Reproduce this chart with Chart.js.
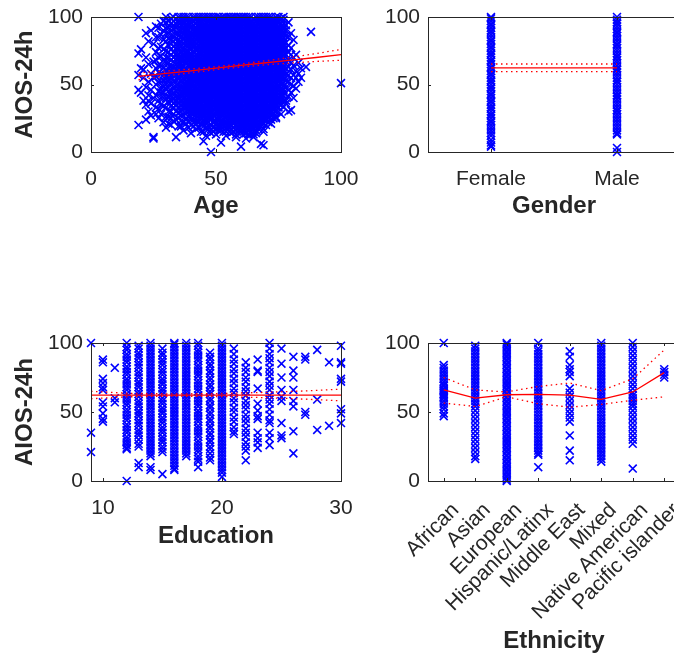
<!DOCTYPE html>
<html>
<head>
<meta charset="utf-8">
<script src="https://cdn.jsdelivr.net/npm/chart.js@4.4.1/dist/chart.umd.min.js"></script>
<style>
  html, body { margin: 0; padding: 0; background: #fff; overflow: hidden; }
  body { width: 674px; height: 656px; position: relative; }
  canvas { position: absolute; }
</style>
</head>
<body>
<canvas id="ageChart" width="360" height="240" style="left:0;top:0"></canvas>
<canvas id="genderChart" width="330" height="240" style="left:360px;top:0"></canvas>
<canvas id="eduChart" width="360" height="240" style="left:0;top:320px"></canvas>
<canvas id="ethChart" width="330" height="336" style="left:360px;top:320px"></canvas>
<script>
// ---- data ----
const scoreTicks = [0, 50, 100];
const ageTicks = [0, 50, 100];
const eduTicks = [10, 20, 30];
const genderLabels = ['Female', 'Male'];
const ethnicityLabels = ['African', 'Asian', 'European', 'Hispanic/Latinx', 'Middle East', 'Mixed', 'Native American', 'Pacific islander'];

// [age, [AIOS-24h scores]]
const ageGroups = [
    [19, [100, 73, 57, 46, 20]],
    [20, [76, 62, 44]],
    [21, [61, 55, 38]],
    [22, [88, 70, 48, 35, 24]],
    [23, [82, 65, 52, 42, 38, 30]],
    [24, [90, 58, 46, 36, 27]],
    [25, [80, 67, 55, 40, 11, 10]],
    [26, [93, 74, 62, 50, 33, 28]],
    [27, [85, 70, 59, 45, 38, 25]],
    [28, [95, 78, 64, 52, 44, 35, 28]],
    [29, [90, 83, 68, 57, 48, 40, 22]],
    [30, [96, 88, 75, 70, 61, 54, 47, 33, 18]],
    [31, [92, 84, 79, 66, 58, 50, 41, 37, 26]],
    [32, [99, 86, 80, 72, 63, 55, 45, 38, 30, 20]],
    [33, [100, 91, 82, 74, 67, 60, 52, 44, 39, 33, 28]],
    [34, [95, 88, 84, 77, 69, 62, 57, 48, 42, 35, 24, 11]],
    [35, [100, 90, 86, 81, 73, 65, 58, 54, 50, 41, 36, 29, 19]],
    [36, [98, 94, 85, 78, 70, 66, 61, 53, 47, 44, 38, 32, 27, 23]],
    [37, [97, 92, 88, 80, 75, 71, 63, 59, 55, 46, 42, 36, 27, 16]],
    [38, [100, 91, 87, 83, 74, 69, 66, 57, 52, 49, 44, 39, 35, 30, 21]],
    [39, [98, 93, 85, 81, 77, 72, 68, 60, 56, 51, 47, 43, 38, 34, 26, 18]],
    [40, [96, 89, 85, 80, 73, 69, 64, 58, 54, 50, 45, 41, 37, 33, 29, 24, 14]],
    [41, [100, 94, 87, 82, 78, 70, 66, 62, 57, 53, 49, 45, 40, 36, 31, 28, 19]],
    [42, [98, 91, 88, 83, 75, 72, 67, 63, 59, 55, 51, 46, 42, 38, 34, 25, 21, 17]],
    [43, [95, 90, 86, 79, 76, 71, 68, 64, 60, 56, 52, 47, 43, 39, 35, 30, 27, 22]],
    [44, [97, 93, 89, 85, 81, 74, 70, 65, 62, 57, 54, 49, 45, 41, 37, 33, 29, 26, 15]],
    [45, [100, 92, 88, 84, 80, 76, 72, 68, 64, 60, 57, 52, 48, 44, 37, 33, 28, 23, 19, 8]],
    [46, [94, 90, 86, 82, 78, 74, 70, 67, 63, 59, 55, 51, 47, 43, 39, 35, 31, 26, 22, 12]],
    [47, [96, 92, 88, 85, 81, 77, 73, 69, 66, 62, 58, 54, 50, 46, 42, 39, 35, 29, 25, 17]],
    [48, [100, 95, 87, 83, 79, 75, 71, 68, 64, 60, 56, 52, 48, 44, 40, 36, 32, 24, 20, 14, 0]],
    [49, [98, 94, 90, 86, 82, 78, 74, 70, 66, 63, 59, 55, 51, 47, 43, 38, 34, 30, 27, 18]],
    [50, [100, 93, 89, 85, 81, 77, 73, 69, 65, 61, 57, 53, 49, 46, 42, 38, 34, 30, 25, 21, 13]],
    [51, [96, 92, 88, 84, 80, 76, 72, 68, 64, 60, 57, 53, 49, 45, 41, 37, 33, 29, 26, 20, 16]],
    [52, [99, 95, 91, 87, 83, 79, 75, 71, 67, 63, 60, 56, 52, 48, 44, 40, 36, 32, 28, 23, 19, 7]],
    [53, [100, 94, 90, 86, 82, 78, 74, 70, 66, 62, 58, 55, 51, 47, 43, 39, 35, 31, 27, 24, 15]],
    [54, [100, 96, 92, 88, 84, 80, 76, 73, 69, 65, 61, 57, 53, 49, 45, 41, 37, 33, 29, 22, 18, 12]],
    [55, [97, 93, 89, 85, 81, 77, 73, 70, 66, 62, 58, 54, 50, 46, 42, 38, 34, 30, 25, 21, 17]],
    [56, [99, 94, 90, 86, 82, 78, 74, 70, 66, 62, 58, 54, 50, 46, 42, 38, 34, 30, 26, 20, 14]],
    [57, [100, 95, 91, 87, 83, 79, 75, 71, 67, 63, 59, 55, 51, 47, 43, 39, 35, 31, 27, 23, 18]],
    [58, [95, 91, 87, 83, 79, 75, 71, 67, 63, 60, 56, 52, 48, 44, 40, 36, 32, 28, 23, 16, 11]],
    [59, [100, 96, 92, 88, 84, 80, 76, 72, 69, 65, 61, 57, 53, 49, 45, 41, 38, 34, 30, 26, 19]],
    [60, [99, 94, 90, 86, 82, 78, 74, 70, 67, 63, 59, 55, 51, 47, 43, 39, 35, 31, 27, 24, 20, 15, 4]],
    [61, [96, 92, 88, 84, 80, 76, 72, 68, 65, 61, 57, 53, 49, 45, 41, 37, 33, 29, 25, 21, 17, 13]],
    [62, [98, 94, 90, 86, 82, 78, 74, 70, 66, 63, 59, 55, 51, 47, 43, 39, 35, 31, 27, 23, 18, 10]],
    [63, [100, 95, 91, 87, 83, 79, 75, 71, 68, 64, 60, 56, 52, 48, 44, 40, 36, 32, 28, 24, 20, 16]],
    [64, [97, 93, 89, 85, 81, 77, 73, 69, 66, 62, 58, 54, 50, 46, 42, 38, 34, 30, 26, 22, 18, 13]],
    [65, [95, 91, 87, 83, 79, 75, 71, 67, 64, 60, 56, 52, 48, 44, 40, 36, 32, 28, 24, 20, 15, 11]],
    [66, [100, 94, 90, 86, 82, 78, 74, 70, 67, 63, 59, 55, 51, 47, 43, 39, 35, 31, 27, 23, 19, 14]],
    [67, [96, 92, 88, 84, 80, 76, 72, 69, 65, 61, 57, 53, 49, 45, 41, 37, 33, 29, 25, 21, 17]],
    [68, [98, 94, 90, 86, 82, 78, 74, 70, 66, 63, 59, 55, 51, 47, 43, 39, 35, 31, 27, 23, 19, 6]],
    [69, [100, 95, 91, 87, 83, 79, 75, 71, 68, 64, 60, 56, 52, 48, 44, 40, 36, 32, 28, 24, 15, 5]],
    [70, [97, 93, 89, 85, 81, 77, 73, 69, 65, 61, 57, 53, 49, 45, 41, 37, 33, 29, 25, 20]],
    [71, [100, 94, 90, 86, 82, 78, 75, 71, 67, 63, 59, 55, 51, 47, 43, 39, 35, 31, 27, 22]],
    [72, [98, 94, 90, 86, 82, 78, 74, 70, 66, 62, 58, 54, 50, 46, 41, 37, 33, 29, 24]],
    [73, [96, 92, 88, 84, 80, 76, 72, 68, 64, 60, 56, 52, 48, 43, 39, 35, 31, 25]],
    [74, [97, 93, 89, 85, 81, 77, 72, 68, 64, 60, 56, 52, 47, 43, 38, 34, 26, 25]],
    [75, [100, 92, 88, 84, 80, 75, 71, 67, 63, 58, 54, 49, 45, 40, 36, 30]],
    [76, [99, 91, 87, 83, 79, 74, 70, 66, 61, 57, 52, 47, 43, 38, 28]],
    [77, [100, 95, 91, 87, 82, 78, 74, 69, 65, 60, 56, 51, 46, 42, 33]],
    [78, [94, 90, 86, 81, 77, 72, 67, 62, 58, 53, 48, 38, 36]],
    [79, [96, 85, 79, 74, 68, 63, 57, 52, 46, 41, 30]],
    [80, [88, 77, 72, 66, 61, 55, 50, 44, 31]],
    [81, [83, 70, 64, 57, 49, 40]],
    [82, [72, 60, 55, 47]],
    [83, [66, 58, 52]],
    [84, [62, 55]],
    [86, [63]],
    [88, [89]],
    [100, [51]],
    // second pass of readings through the dense core
    [26, [85, 68, 56, 42]],
    [27, [92, 77, 64, 52, 32]],
    [28, [87, 71, 58, 48, 40]],
    [29, [97, 76, 62, 53, 44, 34]],
    [30, [100, 92, 82, 66, 57, 50, 40, 26]],
    [31, [97, 88, 74, 70, 62, 54, 45, 30, 21]],
    [32, [95, 90, 83, 76, 68, 59, 50, 42, 34, 25]],
    [33, [97, 94, 86, 78, 70, 63, 56, 48, 42, 36, 23]],
    [34, [92, 80, 73, 65, 60, 52, 45, 38, 30]],
    [35, [96, 88, 83, 77, 69, 62, 56, 47, 39, 33, 25]],
    [36, [100, 96, 90, 82, 74, 68, 63, 57, 50, 41, 35, 30, 19]],
    [37, [100, 95, 90, 84, 78, 73, 67, 61, 57, 50, 44, 39, 33, 22]],
    [38, [97, 94, 89, 85, 79, 71, 67, 62, 55, 50, 46, 42, 37, 33, 25]],
    [39, [100, 96, 90, 87, 83, 79, 74, 70, 64, 58, 53, 49, 45, 40, 36, 30, 22]],
    [40, [98, 92, 87, 82, 77, 71, 66, 61, 56, 52, 47, 43, 39, 35, 31, 26, 20]],
    [41, [97, 91, 85, 80, 74, 68, 64, 59, 55, 51, 47, 42, 38, 34, 30, 24]],
    [42, [100, 95, 90, 86, 80, 77, 70, 65, 61, 57, 53, 48, 44, 40, 36, 30, 23]],
    [43, [100, 97, 93, 88, 82, 78, 74, 70, 66, 62, 58, 54, 50, 45, 41, 37, 33, 29, 25, 18]],
    [44, [100, 95, 91, 87, 83, 78, 72, 67, 64, 60, 56, 52, 47, 43, 39, 35, 31, 28, 21]],
    [45, [98, 94, 90, 86, 82, 78, 74, 70, 66, 62, 59, 55, 50, 46, 42, 39, 35, 31, 26, 21, 15]],
    [46, [100, 96, 92, 88, 84, 80, 76, 72, 69, 65, 61, 57, 53, 49, 45, 41, 37, 33, 29, 24, 18]],
    [47, [100, 98, 94, 90, 87, 83, 79, 75, 71, 68, 64, 60, 56, 52, 48, 44, 41, 37, 32, 27, 22]],
    [48, [98, 92, 89, 85, 81, 77, 73, 70, 66, 62, 58, 54, 50, 46, 42, 38, 34, 29, 26, 17]],
    [49, [100, 96, 92, 88, 84, 80, 76, 72, 68, 65, 61, 57, 53, 49, 45, 41, 36, 32, 28, 23, 15]],
    [50, [97, 95, 91, 87, 83, 79, 75, 71, 67, 63, 59, 55, 51, 48, 44, 40, 36, 32, 28, 23, 17]],
    [51, [100, 98, 94, 90, 86, 82, 78, 74, 70, 66, 62, 59, 55, 51, 47, 43, 39, 35, 31, 24, 18]],
    [52, [97, 93, 89, 85, 81, 77, 73, 69, 65, 62, 58, 54, 50, 46, 42, 38, 34, 30, 26, 21, 16]],
    [53, [98, 96, 92, 88, 84, 80, 76, 72, 68, 64, 60, 57, 53, 49, 45, 41, 37, 33, 29, 22, 19]],
    [54, [98, 94, 90, 86, 82, 78, 74, 71, 67, 63, 59, 55, 51, 47, 43, 39, 35, 31, 27, 25, 15]],
    [55, [100, 95, 91, 87, 83, 79, 75, 72, 68, 64, 60, 56, 52, 48, 44, 40, 36, 32, 28, 23, 19]],
    [56, [100, 96, 92, 88, 84, 80, 76, 72, 68, 64, 60, 56, 52, 48, 44, 40, 36, 32, 28, 23, 17]],
    [57, [97, 93, 89, 85, 81, 77, 73, 69, 65, 61, 57, 53, 49, 45, 41, 37, 33, 29, 25, 21, 15]],
    [58, [100, 97, 93, 89, 85, 81, 77, 73, 69, 65, 62, 58, 54, 50, 46, 42, 38, 34, 30, 26, 20, 13]],
    [59, [98, 94, 90, 86, 82, 78, 74, 70, 67, 63, 59, 55, 51, 47, 43, 40, 36, 32, 28, 23, 16]],
    [60, [100, 96, 92, 88, 84, 80, 76, 72, 68, 65, 61, 57, 53, 49, 45, 41, 37, 33, 29, 26, 22, 17]],
    [61, [100, 98, 94, 90, 86, 82, 78, 74, 70, 67, 63, 59, 55, 51, 47, 43, 39, 35, 31, 27, 23, 19, 15]],
    [62, [100, 96, 92, 88, 84, 80, 76, 72, 68, 64, 61, 57, 53, 49, 45, 41, 37, 33, 29, 25, 21, 14]],
    [63, [98, 93, 89, 85, 81, 77, 73, 69, 66, 62, 58, 54, 50, 46, 42, 38, 34, 30, 26, 22, 18, 13]],
    [64, [100, 95, 91, 87, 83, 79, 75, 71, 68, 64, 60, 56, 52, 48, 44, 40, 36, 32, 28, 24, 20, 15]],
    [65, [98, 93, 89, 85, 81, 77, 73, 69, 66, 62, 58, 54, 50, 46, 42, 38, 34, 30, 26, 22, 18, 13]],
    [66, [97, 92, 88, 84, 80, 76, 72, 68, 65, 61, 57, 53, 49, 45, 41, 37, 33, 29, 25, 21, 16]],
    [67, [100, 98, 94, 90, 86, 82, 78, 74, 71, 67, 63, 59, 55, 51, 47, 43, 39, 35, 31, 27, 23, 19]],
    [68, [100, 96, 92, 88, 84, 80, 76, 72, 68, 65, 61, 57, 53, 49, 45, 41, 37, 33, 29, 25, 21]],
    [69, [97, 93, 89, 85, 81, 77, 73, 70, 66, 62, 58, 54, 50, 46, 42, 38, 34, 30, 26, 21, 17]],
    [70, [100, 95, 91, 87, 83, 79, 75, 71, 67, 63, 59, 55, 51, 47, 43, 39, 35, 31, 27, 23]],
    [71, [98, 96, 92, 88, 84, 80, 77, 73, 69, 65, 61, 57, 53, 49, 45, 41, 37, 33, 29, 25]],
    [72, [100, 96, 92, 88, 84, 80, 76, 72, 68, 64, 60, 56, 52, 48, 44, 39, 35, 31, 27, 21]],
    [73, [98, 94, 90, 86, 82, 78, 74, 70, 66, 62, 58, 54, 50, 46, 41, 37, 33, 28]],
    [74, [100, 95, 91, 87, 83, 79, 75, 70, 66, 62, 58, 54, 50, 45, 41, 36, 30]],
    [75, [96, 90, 86, 82, 77, 73, 69, 65, 61, 56, 52, 47, 43, 38, 33]],
    [76, [95, 89, 85, 81, 77, 72, 68, 64, 59, 55, 50, 45, 41, 35]],
    [77, [98, 93, 89, 85, 80, 76, 72, 67, 63, 58, 54, 49, 44, 38]]
];
const ageFitX = [19, 30, 40, 50, 60, 70, 80, 90, 100];
const ageFit = [56.0, 58.2, 60.1, 62.1, 64.1, 66.1, 68.0, 70.0, 72.2];
const ageUpper = [58.6, 60.0, 61.5, 63.2, 65.2, 67.6, 70.1, 72.9, 76.0];
const ageLower = [53.4, 56.4, 58.7, 61.0, 63.0, 64.6, 65.9, 67.1, 68.0];

// [gender index, [scores]]
const genderGroups = [
    [1, [100, 99, 97, 95, 94, 92, 90, 89, 87, 85, 83, 82, 80, 78, 77, 75, 73, 72, 70, 68, 67, 65, 63, 62, 60, 58, 57, 55,
         53, 52, 50, 48, 47, 45, 43, 42, 40, 38, 37, 35, 33, 32, 30, 28, 27, 25, 23, 22, 20, 18, 16, 14, 12, 9, 7, 5, 4]],
    [2, [100, 98, 96, 95, 93, 91, 89, 88, 86, 84, 82, 80, 79, 77, 75, 73, 71, 70, 68, 66, 64, 62, 61, 59, 57, 55, 53, 52,
         50, 48, 46, 44, 42, 41, 39, 37, 35, 33, 31, 30, 28, 26, 24, 22, 20, 18, 16, 14, 13, 3, 0]]
];
const genderFitX = [1, 2];
const genderFit = [62.3, 62.3];
const genderUpper = [65.2, 65.2];
const genderLower = [59.6, 59.6];

// [years of education, [scores]]
const eduGroups = [
    [9, [100, 35, 21]],
    [10, [88, 86, 74, 71, 68, 66, 57, 54, 49, 45, 43]],
    [11, [82, 60, 57]],
    [12, [100, 97, 95, 92, 90, 88, 86, 83, 81, 79, 77, 74, 72, 70, 68, 66, 63, 61, 59, 57, 55, 52, 50, 48, 46, 44, 41, 39, 37, 35, 32, 30, 28, 26, 24, 23, 0]],
    [13, [98, 96, 93, 91, 89, 86, 84, 82, 79, 77, 75, 72, 70, 68, 65, 63, 61, 58, 56, 54, 51, 49, 47, 44, 42, 40, 37, 35, 33, 30, 27, 25, 13, 10]],
    [14, [100, 98, 96, 94, 92, 90, 88, 86, 84, 82, 80, 78, 76, 74, 72, 70, 68, 66, 64, 62, 60, 58, 56, 54, 52, 50, 48, 46, 44, 42, 40, 38, 36, 34, 32, 30, 28, 26, 24, 22, 20, 18, 10, 8]],
    [15, [96, 93, 91, 88, 86, 84, 81, 79, 77, 74, 72, 70, 67, 65, 63, 60, 58, 56, 53, 51, 49, 46, 44, 42, 39, 37, 35, 32, 30, 28, 25, 23, 21, 5]],
    [16, [100, 99, 97, 95, 93, 91, 89, 87, 85, 83, 81, 79, 77, 75, 73, 71, 69, 67, 65, 63, 61, 59, 57, 55, 53, 51, 49, 47, 45, 43, 41, 39, 37, 35, 33, 31, 29, 27, 25, 23, 21, 19, 17, 15, 13, 11, 9, 8]],
    [17, [100, 98, 96, 94, 92, 90, 88, 86, 84, 82, 80, 78, 76, 74, 72, 70, 68, 66, 64, 62, 60, 58, 56, 54, 52, 50, 48, 46, 44, 42, 40, 38, 36, 34, 32, 30, 28, 26, 24, 22, 20, 18]],
    [18, [100, 98, 95, 93, 91, 89, 87, 84, 82, 80, 78, 76, 73, 71, 69, 67, 65, 62, 60, 58, 56, 54, 51, 49, 47, 45, 43, 40, 38, 36, 34, 32, 29, 27, 25, 23, 21, 18, 16, 14, 10]],
    [19, [93, 90, 88, 85, 83, 80, 78, 75, 73, 70, 68, 65, 63, 60, 58, 55, 53, 50, 48, 45, 43, 40, 38, 35, 33, 30, 28, 25, 23, 20, 17, 15]],
    [20, [100, 98, 96, 94, 92, 90, 88, 86, 84, 82, 80, 78, 76, 74, 72, 70, 68, 66, 64, 62, 60, 58, 56, 54, 52, 50, 48, 46, 44, 42, 40, 38, 36, 34, 32, 30, 28, 26, 24, 22, 20, 18, 16, 14, 12, 10, 8, 6, 3]],
    [21, [96, 92, 88, 85, 81, 78, 74, 71, 67, 64, 60, 57, 53, 50, 46, 43, 39, 36, 34]],
    [22, [86, 82, 79, 75, 72, 68, 65, 62, 58, 55, 52, 48, 45, 42, 38, 35, 32, 28, 25, 22, 15]],
    [23, [88, 80, 79, 67, 56, 51, 47, 45, 35, 31, 28, 24]],
    [24, [100, 96, 92, 89, 86, 82, 79, 76, 72, 69, 66, 62, 59, 56, 52, 48, 44, 42, 35, 31, 26]],
    [25, [96, 85, 75, 66, 61, 58, 42, 33, 31]],
    [26, [90, 80, 75, 66, 58, 54, 36, 20]],
    [27, [90, 88, 50, 48]],
    [28, [95, 59, 37]],
    [29, [86, 40]],
    [30, [98, 86, 85, 74, 72, 52, 49, 42]]
];
const eduFitX = [9, 12, 16, 20, 24, 27, 30];
const eduFit = [62.3, 62.3, 62.3, 62.3, 62.3, 62.3, 62.3];
const eduUpper = [65.0, 63.6, 63.1, 63.4, 64.3, 65.3, 66.5];
const eduLower = [59.6, 61.0, 61.5, 61.2, 60.3, 59.3, 58.1];

// [ethnicity index, [scores]]
const ethGroups = [
    [1, [100, 84, 82, 80, 78, 76, 74, 72, 70, 69, 67, 66, 65, 64, 63, 62, 61, 60, 58, 56, 54, 52, 49, 47]],
    [2, [98, 96, 94, 92, 90, 88, 86, 84, 82, 80, 78, 76, 74, 72, 70, 68, 66, 64, 62, 60, 58, 56, 54, 51, 48, 45, 42, 39, 36, 33, 30, 27, 24, 21, 18, 16]],
    [3, [100, 99, 97, 96, 94, 93, 91, 90, 88, 87, 85, 84, 82, 81, 79, 78, 76, 75, 73, 72, 70, 69, 67, 66, 64, 63, 61, 60, 58, 57, 55, 54,
         52, 51, 49, 48, 46, 45, 43, 42, 40, 39, 37, 36, 34, 33, 31, 30, 28, 27, 25, 24, 22, 21, 19, 18, 16, 15, 13, 12, 10, 9, 7, 6, 4, 3, 1, 0]],
    [4, [100, 96, 94, 92, 90, 88, 86, 84, 82, 80, 78, 76, 74, 72, 70, 68, 66, 64, 62, 60, 58, 56, 54, 52, 50, 48, 46, 44, 42, 40, 38, 36, 34, 32, 30, 28, 26, 24, 22, 20, 19, 10]],
    [5, [94, 90, 84, 81, 79, 76, 67, 64, 61, 58, 55, 52, 49, 46, 43, 33, 22, 15]],
    [6, [100, 98, 96, 94, 92, 90, 88, 86, 84, 82, 80, 78, 76, 74, 72, 70, 68, 66, 64, 62, 60, 58, 56, 54, 52, 50, 48, 46, 44, 42, 40, 38, 36, 34, 32, 30, 28, 26, 24, 22, 20, 18, 16, 14]],
    [7, [100, 97, 94, 91, 88, 85, 82, 79, 76, 73, 70, 67, 64, 62, 60, 58, 56, 54, 51, 48, 45, 42, 39, 36, 33, 30, 27, 9]],
    [8, [81, 79, 77, 75]]
];
const ethFitX = [1, 2, 3, 4, 5, 6, 7, 8];
const ethFit = [66.0, 60.0, 62.5, 62.8, 62.3, 59.2, 64.5, 78.5];
const ethUpper = [75.0, 66.0, 64.5, 68.5, 71.0, 65.5, 74.0, 95.0];
const ethLower = [56.5, 54.0, 61.0, 56.0, 53.5, 55.5, 58.5, 61.0];

// ---- styling ----
const FONT = "'Liberation Sans', Arial, Helvetica, sans-serif";
const TEXT = '#262626';
const tickFont = { family: FONT, size: 21 };
const titleFont = { family: FONT, size: 24, weight: 'bold' };

function toPoints(groups) {
    const pts = [];
    groups.forEach(([x, ys]) => ys.forEach(y => pts.push({ x: x, y: y })));
    return pts;
}

function toLine(xs, ys) {
    return xs.map((x, i) => ({ x: x, y: ys[i] }));
}

function fitDatasets(xs, fit, upper, lower) {
    const base = { showLine: true, pointRadius: 0, borderColor: '#ff0000', fill: false, clip: false };
    return [
        Object.assign({}, base, { data: toLine(xs, fit), borderWidth: 1.3 }),
        Object.assign({}, base, { data: toLine(xs, upper), borderWidth: 1.3, borderDash: [1.5, 3.5] }),
        Object.assign({}, base, { data: toLine(xs, lower), borderWidth: 1.3, borderDash: [1.5, 3.5] })
    ];
}

function scatterDataset(groups) {
    return {
        data: toPoints(groups),
        pointStyle: 'crossRot',
        pointRadius: 5.6,
        borderColor: '#0000ff',
        backgroundColor: '#0000ff',
        pointBorderWidth: 1.6,
        showLine: false,
        clip: false
    };
}

// invisible tick marks give the label gap without widening the chart padding
function spacer(len) {
    return { display: true, drawOnChartArea: false, drawTicks: true, tickLength: len, color: 'rgba(0,0,0,0)' };
}

// axes box with small inward ticks, MATLAB style
const axesBox = {
    id: 'axesBox',
    afterDatasetsDraw(chart) {
        const { ctx, chartArea: a, scales } = chart;
        ctx.save();
        ctx.strokeStyle = TEXT;
        ctx.lineWidth = 1;
        ctx.strokeRect(Math.round(a.left) + 0.5, Math.round(a.top) + 0.5,
            Math.round(a.right - a.left), Math.round(a.bottom - a.top));
        ctx.beginPath();
        scales.x.ticks.forEach(t => {
            const px = Math.round(scales.x.getPixelForValue(t.value)) + 0.5;
            ctx.moveTo(px, a.bottom); ctx.lineTo(px, a.bottom - 3);
            ctx.moveTo(px, a.top); ctx.lineTo(px, a.top + 3);
        });
        scales.y.ticks.forEach(t => {
            const py = Math.round(scales.y.getPixelForValue(t.value)) + 0.5;
            ctx.moveTo(a.left, py); ctx.lineTo(a.left + 3, py);
            ctx.moveTo(a.right, py); ctx.lineTo(a.right - 3, py);
        });
        ctx.stroke();
        ctx.restore();
    }
};

function makePanel(id, cfg) {
    const ctx = document.getElementById(id).getContext('2d');
    return new Chart(ctx, {
        type: 'scatter',
        data: {
            datasets: fitDatasets(cfg.fitX, cfg.fit, cfg.upper, cfg.lower).concat([scatterDataset(cfg.groups)])
        },
        options: {
            responsive: false,
            animation: false,
            events: [],
            layout: { padding: cfg.padding },
            plugins: { legend: { display: false }, tooltip: { enabled: false } },
            scales: {
                x: {
                    type: 'linear',
                    min: cfg.xMin,
                    max: cfg.xMax,
                    grid: spacer(cfg.xTickGap),
                    border: { display: false },
                    ticks: {
                        font: tickFont,
                        color: TEXT,
                        padding: 0,
                        autoSkip: false,
                        minRotation: cfg.rotation || 0,
                        maxRotation: cfg.rotation || 0,
                        labelOffset: cfg.labelOffset || 0,
                        callback: cfg.xLabels ? (v => cfg.xLabels[v - 1]) : (v => v)
                    },
                    afterBuildTicks: s => { s.ticks = cfg.xTicks.map(v => ({ value: v })); },
                    afterFit: s => { s.height = cfg.xHeight; },
                    title: { display: true, text: cfg.xTitle, font: titleFont, color: TEXT, padding: { top: 0, bottom: cfg.xTitlePad } }
                },
                y: {
                    type: 'linear',
                    min: 0,
                    max: 100,
                    grid: spacer(8),
                    border: { display: false },
                    ticks: { font: tickFont, color: TEXT, padding: 0 },
                    afterBuildTicks: s => { s.ticks = scoreTicks.map(v => ({ value: v })); },
                    afterFit: s => { s.width = cfg.yWidth; },
                    title: { display: !!cfg.yTitle, text: cfg.yTitle || '', font: titleFont, color: TEXT, padding: { top: 11, bottom: 0 } }
                }
            }
        },
        plugins: [axesBox]
    });
}

makePanel('ageChart', {
    groups: ageGroups, fitX: ageFitX, fit: ageFit, upper: ageUpper, lower: ageLower,
    xMin: 0, xMax: 100, xTicks: ageTicks, xTitle: 'Age', yTitle: 'AIOS-24h',
    padding: { left: 0, top: 17, right: 19, bottom: 0 }, yWidth: 91, xHeight: 88, xTickGap: 15, xTitlePad: 19
});

makePanel('genderChart', {
    groups: genderGroups, fitX: genderFitX, fit: genderFit, upper: genderUpper, lower: genderLower,
    xMin: 0.5, xMax: 2.5, xTicks: [1, 2], xLabels: genderLabels, xTitle: 'Gender',
    padding: { left: 0, top: 17, right: 10, bottom: 0 }, yWidth: 68, xHeight: 88, xTickGap: 15, xTitlePad: 19
});

makePanel('eduChart', {
    groups: eduGroups, fitX: eduFitX, fit: eduFit, upper: eduUpper, lower: eduLower,
    xMin: 9, xMax: 30, xTicks: eduTicks, xTitle: 'Education', yTitle: 'AIOS-24h',
    padding: { left: 0, top: 23, right: 19, bottom: 0 }, yWidth: 91, xHeight: 79, xTickGap: 15, xTitlePad: 9
});

makePanel('ethChart', {
    groups: ethGroups, fitX: ethFitX, fit: ethFit, upper: ethUpper, lower: ethLower,
    xMin: 0.5, xMax: 8.5, xTicks: ethFitX, xLabels: ethnicityLabels, xTitle: 'Ethnicity',
    rotation: 45, labelOffset: 12,
    padding: { left: 0, top: 23, right: 10, bottom: 0 }, yWidth: 68, xHeight: 175, xTickGap: 17, xTitlePad: 0
});
</script>
</body>
</html>
